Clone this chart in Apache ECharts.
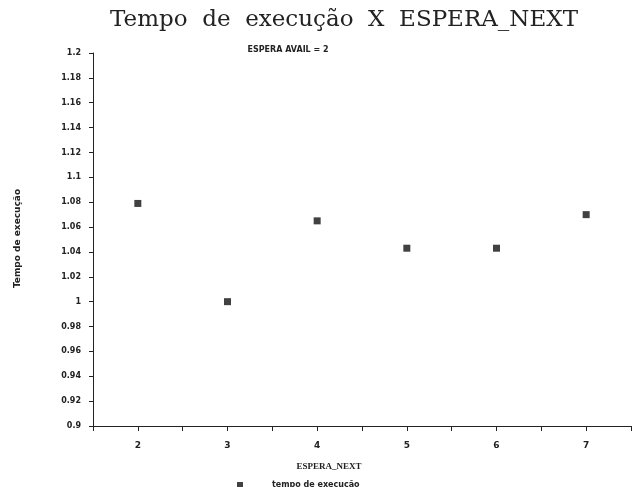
<!DOCTYPE html>
<html>
<head>
<meta charset="utf-8">
<script src="https://cdn.jsdelivr.net/npm/echarts@6/dist/echarts.min.js"></script>
<style>
  html, body { margin: 0; padding: 0; background: #fff; }
  #chart { width: 634px; height: 487px; }
</style>
</head>
<body>
<div id="chart"></div>
<script>
// ESPERA_NEXT values and measured times
const esperaNext = [2, 3, 4, 5, 6, 7];
const tempoExecucao = [1.079, 1.0, 1.065, 1.043, 1.043, 1.070];

const tituloPrincipal = 'Tempo  de  execução  X  ESPERA_NEXT';
const subtitulo = 'ESPERA AVAIL = 2';
const nomeSerie = 'tempo de execução';

let chart = echarts.init(document.getElementById('chart'));

let pontos = esperaNext.map((x, i) => [x, tempoExecucao[i]]);

let option = {
    backgroundColor: '#fff',
    animation: false,
    title: [
        {
            text: tituloPrincipal,
            left: 339,
            textAlign: 'center',
            top: 4,
            textStyle: {
                fontFamily: 'DejaVu Serif',
                fontSize: 23,
                fontWeight: 'normal',
                color: '#222'
            }
        },
        {
            text: subtitulo,
            left: 283,
            textAlign: 'center',
            top: 41,
            textStyle: {
                fontFamily: 'DejaVu Sans',
                fontSize: 8,
                fontWeight: 'bold',
                color: '#222'
            }
        }
    ],
    legend: {
        data: [nomeSerie],
        left: 232,
        top: 476,
        itemWidth: 6,
        itemHeight: 6,
        icon: 'rect',
        textStyle: {
            fontFamily: 'DejaVu Sans',
            fontSize: 8,
            fontWeight: 'bold',
            color: '#222',
            padding: [0, 0, 0, 24]
        }
    },
    grid: {
        left: 93,
        top: 53,
        width: 545,
        bottom: 61
    },
    xAxis: {
        type: 'value',
        min: 1.5,
        max: 7.5,
        interval: 0.5,
        name: 'ESPERA_NEXT',
        nameLocation: 'middle',
        nameGap: 36,
        nameTextStyle: {
            fontFamily: 'Liberation Serif',
            fontSize: 9,
            fontWeight: 'bold',
            color: '#222',
            padding: [0, 66, 0, 0]
        },
        axisLine: { lineStyle: { color: '#222', width: 1 } },
        axisTick: { inside: false, length: 5, lineStyle: { color: '#222' } },
        splitLine: { show: false },
        axisLabel: {
            margin: 15,
            fontFamily: 'DejaVu Sans',
            fontSize: 9,
            fontWeight: 'bold',
            color: '#222',
            formatter: function (v) {
                return Number.isInteger(v) ? String(v) : '';
            }
        }
    },
    yAxis: {
        type: 'value',
        min: 0.9,
        max: 1.2,
        interval: 0.02,
        name: 'Tempo de execução',
        nameLocation: 'middle',
        nameGap: 71,
        nameTextStyle: {
            fontFamily: 'DejaVu Sans',
            fontSize: 9,
            fontWeight: 'bold',
            color: '#222',
            padding: [0, 0, 0, 2]
        },
        axisLine: { show: true, lineStyle: { color: '#222', width: 1 } },
        axisTick: { show: true, inside: false, length: 4, lineStyle: { color: '#222' } },
        splitLine: { show: false },
        axisLabel: {
            margin: 12,
            fontFamily: 'DejaVu Sans',
            fontSize: 8,
            fontWeight: 'bold',
            color: '#222',
            formatter: function (v) {
                return String(parseFloat(v.toFixed(2)));
            }
        }
    },
    series: [
        {
            name: nomeSerie,
            type: 'scatter',
            symbol: 'rect',
            symbolSize: 7,
            itemStyle: { color: '#111' },
            data: pontos
        }
    ]
};

chart.setOption(option);
</script>
</body>
</html>
